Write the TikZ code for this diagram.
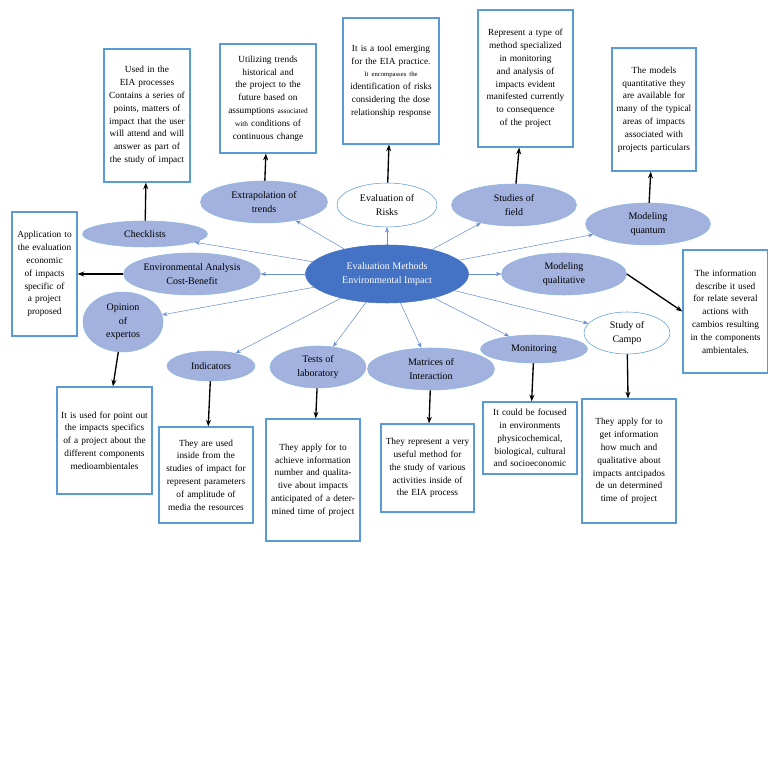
\documentclass[tikz,border=0pt]{standalone}
\usepackage{fontspec}
\setmainfont{Liberation Serif}
\usetikzlibrary{shapes.geometric,arrows.meta}
\definecolor{dblue}{HTML}{4472C4}
\definecolor{lblue}{HTML}{A2B1DE}
\definecolor{bblue}{HTML}{5B9BD5}
\begin{document}
\begin{tikzpicture}[x=0.75pt,y=-0.75pt,
  ell/.style 2 args={ellipse,draw=bblue!70,fill=lblue,minimum width=#1*0.75pt,minimum height=#2*0.75pt,inner sep=0pt,align=center,font=\fontsize{7.5}{10}\selectfont},
  wel/.style 2 args={ell={#1}{#2},fill=white,draw=bblue},
  box/.style 2 args={draw=bblue,line width=0.9pt,fill=white,minimum width=#1*0.75pt,minimum height=#2*0.75pt,text width=#1*0.75pt-6pt,inner sep=2pt,align=center,font=\fontsize{7}{9.6}\selectfont},
  blar/.style={-{Stealth[length=4pt]},draw=dblue!80,line width=0.4pt},
  bkar/.style={-{Stealth[length=5pt]},black,line width=1pt}]
\useasboundingbox (0,0) rectangle (768,762);
% ellipses
\node[ell={163}{58},fill=dblue,draw=dblue,text=white] (c) at (387,274) {Evaluation Methods\\ Environmental Impact};
\node[ell={125}{26}] (e1) at (145,234) {Checklists};
\node[ell={127}{42}] (e2) at (264,202) {Extrapolation of\\ trends};
\node[wel={100}{44}] (e3) at (387,205) {Evaluation of\\ Risks};
\node[ell={125}{42}] (e4) at (514,205) {Studies of\\ field};
\node[ell={125}{42}] (e5) at (648,224) {Modeling\\ quantum};
\node[ell={127}{42}] (e6) at (192,274) {Environmental Analysis\\ Cost-Benefit};
\node[ell={125}{42}] (e7) at (564,274) {Modeling\\ qualitative};
\node[ell={80}{60}] (e8) at (123,322) {Opinion\\ of\\ expertos};
\node[ell={88}{30}] (e9) at (211,366) {Indicators};
\node[ell={96}{42}] (e10) at (318,367) {Tests of\\ laboratory};
\node[ell={127}{42}] (e11) at (431,369) {Matrices of\\ Interaction};
\node[ell={107}{28}] (e12) at (534,349) {Monitoring};
\node[wel={86}{42}] (e13) at (627,333) {Study of\\ Campo};
% boxes
\node[box={86}{133}] (b1) at (147,115.5) {Used in the\\ EIA processes\\ Contains a series of points, matters of impact that the user will attend and will answer as part of the study of impact};
\node[box={96}{109}] (b2) at (268,98.5) {Utilizing trends historical and the project to the future based on assumptions {\fontsize{5.5}{9.6}\selectfont associated with} conditions of continuous change};
\node[box={96}{126}] (b3) at (391,81) {It is a tool emerging for the EIA practice.\\ {\fontsize{5}{9.6}\selectfont It encompasses the}\\ identification of risks considering the dose relationship response};
\node[box={95}{137}] (b4) at (525.5,78.5) {Represent a type of method specialized in monitoring and analysis of impacts evident manifested currently to consequence of the project};
\node[box={84}{123}] (b5) at (654,109.5) {The models quantitative they are available for many of the typical areas of impacts associated with projects particulars};
\node[box={65}{124}] (b6) at (44.5,274) {Application to the evaluation economic of impacts specific of a project proposed};
\node[box={85}{123}] (b7) at (725.5,311.5) {The information describe it used for relate several actions with cambios resulting in the components ambientales.};
\node[box={95}{107}] (b8) at (104.5,440.5) {It is used for point out the impacts specifics of a project about the different components medioambientales};
\node[box={94}{96}] (b9) at (206,475) {They are used inside from the studies of impact for represent parameters of amplitude of media the resources};
\node[box={94}{122}] (b10) at (313,480) {They apply for to achieve information number and qualitative about impacts anticipated of a determined time of project};
\node[box={93}{88}] (b11) at (427.5,468) {They represent a very useful method for the study of various activities inside of the EIA process};
\node[box={94}{72}] (b12) at (530,438) {It could be focused in environments physicochemical, biological, cultural and socioeconomic};
\node[box={94}{124}] (b13) at (629,461) {They apply for to get information how much and qualitative about impacts antcipados de un determined time of project};
% blue arrows
\foreach \e in {e1,e2,e3,e4,e5,e6,e7,e8,e9,e10,e11,e12,e13} \draw[blar] (c) -- (\e);
% black arrows
\draw[bkar] (e1) -- (b1);
\draw[bkar] (e2) -- (b2);
\draw[bkar] (e3) -- (b3);
\draw[bkar] (e4) -- (b4);
\draw[bkar] (e5) -- (b5);
\draw[bkar] (e6) -- (b6);
\draw[bkar] (e7.east) -- (b7.west);
\draw[bkar] (e8) -- (b8);
\draw[bkar] (e9) -- (b9);
\draw[bkar] (e10) -- (b10);
\draw[bkar] (e11) -- (b11);
\draw[bkar] (e12) -- (b12);
\draw[bkar] (e13) -- (b13);
\end{tikzpicture}
\end{document}
